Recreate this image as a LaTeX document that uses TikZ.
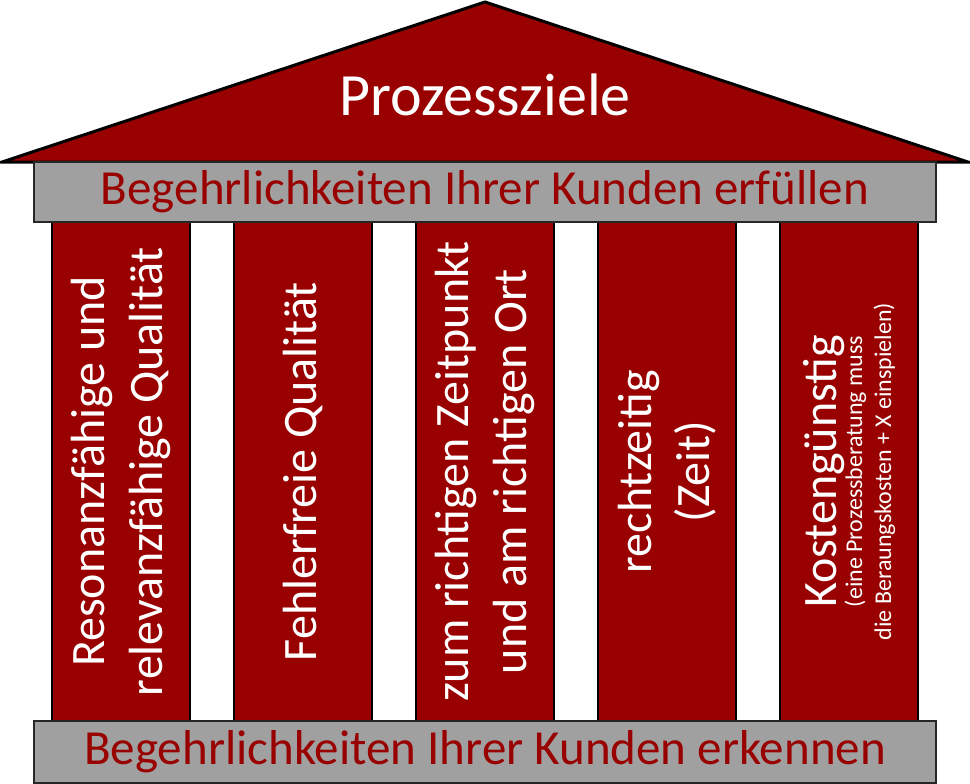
\documentclass[tikz,border=0pt]{standalone}
\usepackage{fontspec}
\setmainfont{Carlito}
\definecolor{templered}{RGB}{153,0,0}
\definecolor{beamgray}{RGB}{160,160,160}
\begin{document}
\begin{tikzpicture}[x=1pt,y=-1pt,
	pillar/.style={draw=black,line width=2.5pt,fill=templered,text=white,rotate=90,
		minimum width=499pt,minimum height=138pt,inner sep=0pt,align=center,
		font=\fontsize{48}{58}\selectfont},
	beam/.style={draw=black!85,line width=2pt,fill=beamgray,text=templered,
		minimum width=902pt,inner sep=0pt,font=\fontsize{49}{56}\selectfont}]
	\useasboundingbox (0,0) rectangle (970,784);
	\draw[line width=3pt,fill=templered,line join=miter] (2,162) -- (485,2) -- (968,162) -- cycle;
	\node[text=white,font=\fontsize{60}{70}\selectfont] (roof) at (485,95) {Prozessziele};
	\node[pillar] (p1) at (121,471.5) {Resonanzfähige und\\relevanzfähige Qualität};
	\node[pillar] (p2) at (303,471.5) {Fehlerfreie Qualität};
	\node[pillar] (p3) at (485,471.5) {zum richtigen Zeitpunkt\\und am richtigen Ort};
	\node[pillar] (p4) at (667,471.5) {rechtzeitig\\(Zeit)};
	\node[pillar] (p5) at (849,471.5) {Kostengünstig\\[-32pt]\fontsize{24}{28}\selectfont(eine Prozessberatung muss\\[-29pt]\fontsize{24}{28}\selectfont die Beraungskosten + X einspielen)};
	\node[beam,minimum height=60pt] (top) at (485,192) {Begehrlichkeiten Ihrer Kunden erfüllen};
	\node[beam,minimum height=62pt] (base) at (485,752) {Begehrlichkeiten Ihrer Kunden erkennen};
\end{tikzpicture}
\end{document}
